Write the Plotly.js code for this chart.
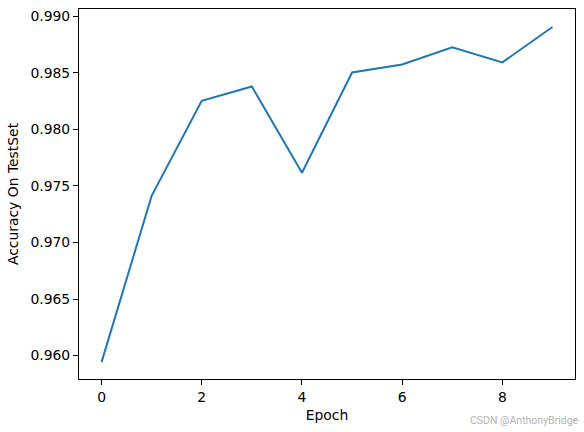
<!DOCTYPE html>
<html>
<head>
<meta charset="utf-8">
<script src="https://cdn.plot.ly/plotly-3.0.1.min.js"></script>
<style>html,body{margin:0;padding:0;background:#fff;}#chart{width:584px;height:432px;}</style>
</head>
<body>
<div id="chart"></div>
<script>
const epochs = [0, 1, 2, 3, 4, 5, 6, 7, 8, 9];
const accuracy = [0.95942, 0.97412, 0.98253, 0.98379, 0.97617, 0.98503, 0.98573, 0.98725, 0.98592, 0.98905];
const xTickVals = [0, 2, 4, 6, 8];
const yTickVals = [0.960, 0.965, 0.970, 0.975, 0.980, 0.985, 0.990];

const font = {family: 'DejaVu Sans', size: 13.9, color: '#000'};
const axisCommon = {
  showgrid: false, zeroline: false, showline: true, linecolor: '#000', linewidth: 1,
  mirror: true, ticks: 'outside', ticklen: 5, tickwidth: 1, tickcolor: '#000',
  tickfont: font, automargin: false
};
Plotly.newPlot('chart', [{
  x: epochs, y: accuracy, type: 'scatter', mode: 'lines',
  line: {color: '#1f77b4', width: 2}
}], {
  width: 584, height: 432,
  margin: {l: 79, r: 9, t: 9, b: 53},
  paper_bgcolor: '#fff', plot_bgcolor: '#fff',
  showlegend: false,
  font: font,
  xaxis: Object.assign({}, axisCommon, {
    range: [-0.45, 9.45], tickvals: xTickVals,
    title: {text: 'Epoch', font: font, standoff: 6}
  }),
  yaxis: Object.assign({}, axisCommon, {
    range: [0.95793, 0.99064], tickvals: yTickVals, tickformat: '.3f',
    title: {text: 'Accuracy On TestSet', font: font, standoff: 8}
  }),
  annotations: [{
    text: 'CSDN @AnthonyBridge', xref: 'paper', yref: 'paper',
    x: 1.012, y: -0.113, xanchor: 'right', yanchor: 'middle', showarrow: false,
    font: {family: 'Roboto', size: 10.5, color: '#b4b4b4'}
  }]
}, {staticPlot: true});
</script>
</body>
</html>
